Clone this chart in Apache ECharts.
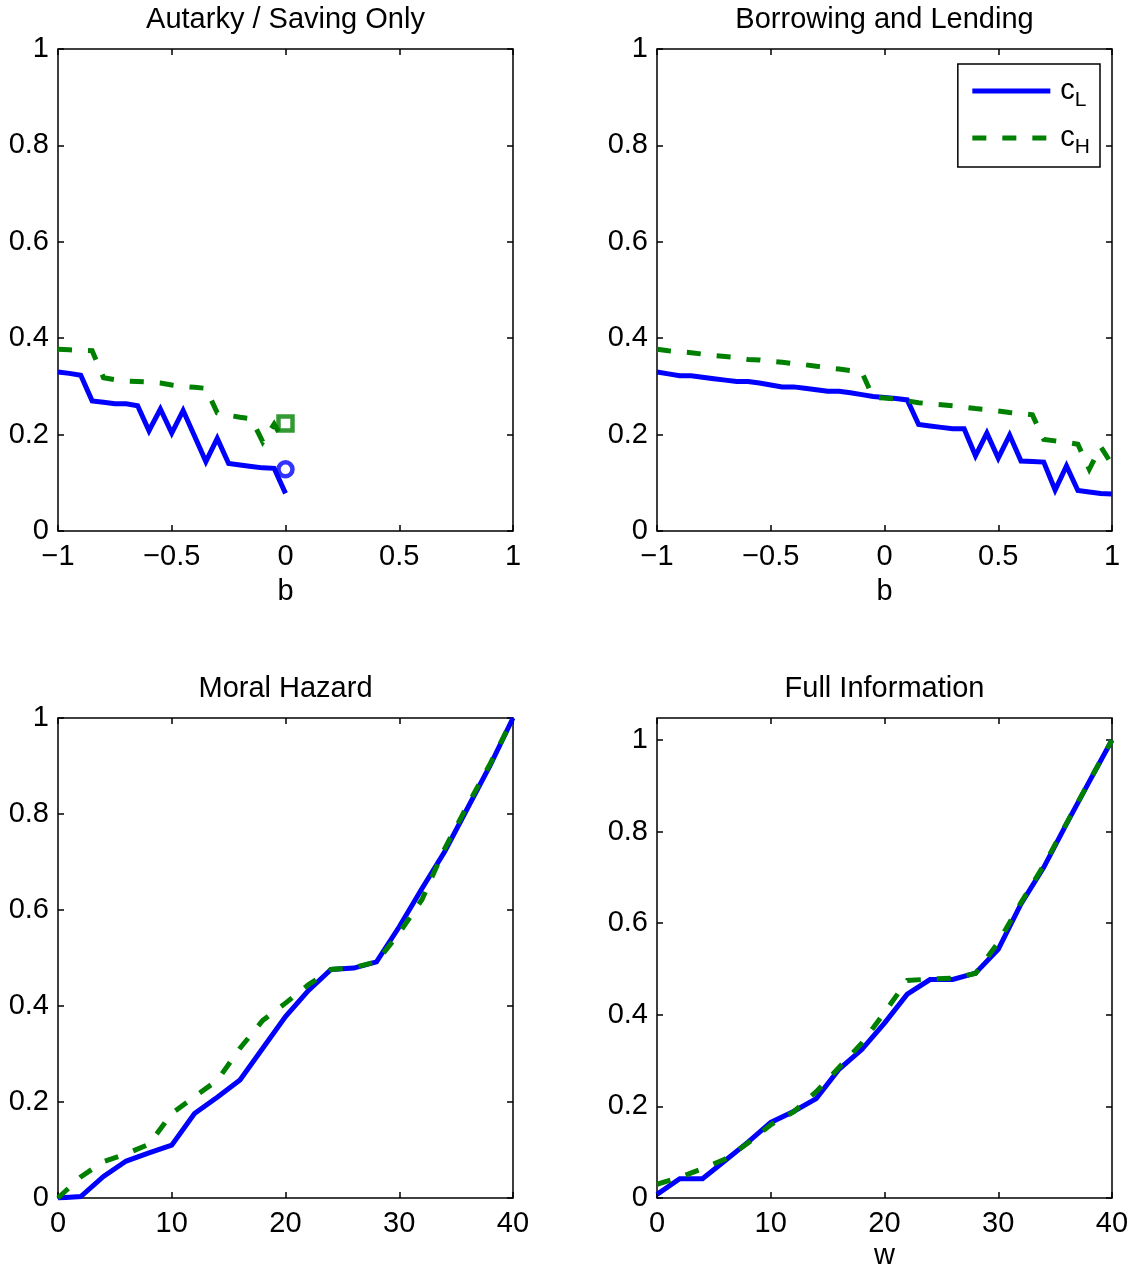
<!DOCTYPE html>
<html>
<head>
<meta charset="utf-8">
<script src="https://cdn.jsdelivr.net/npm/echarts@6/dist/echarts.min.js"></script>
<style>
  html, body { margin: 0; padding: 0; background: #fff; }
  #chart { width: 1136px; height: 1272px; }
</style>
</head>
<body>
<div id="chart"></div>
<script>
// Consumption policies c_L / c_H under four contracting regimes.

// Bond holdings b (autarky: saving only, b <= 0)
const bAutarky = [-1, -0.95, -0.9, -0.85, -0.8, -0.75, -0.7, -0.65, -0.6, -0.55, -0.5,
                  -0.45, -0.4, -0.35, -0.3, -0.25, -0.2, -0.15, -0.1, -0.05, 0];
const cLAutarky = [0.330, 0.327, 0.323, 0.270, 0.267, 0.264, 0.264, 0.260, 0.208, 0.253, 0.203,
                   0.250, 0.197, 0.144, 0.192, 0.140, 0.137, 0.134, 0.131, 0.130, 0.078];
const cHAutarky = [0.377, 0.376, 0.375, 0.374, 0.318, 0.314, 0.311, 0.310, 0.309, 0.307, 0.303,
                   0.300, 0.298, 0.296, 0.245, 0.240, 0.236, 0.233, 0.185, 0.222, 0.180];
// Values at the saving limit b = 0
const cLAutarkyEnd = 0.128;
const cHAutarkyEnd = 0.223;

// Bond holdings b (borrowing and lending)
const bBorrow = [-1, -0.95, -0.9, -0.85, -0.8, -0.75, -0.7, -0.65, -0.6, -0.55, -0.5,
                 -0.45, -0.4, -0.35, -0.3, -0.25, -0.2, -0.15, -0.1, -0.05, 0,
                 0.05, 0.1, 0.15, 0.2, 0.25, 0.3, 0.35, 0.4, 0.45, 0.5,
                 0.55, 0.6, 0.65, 0.7, 0.75, 0.8, 0.85, 0.9, 0.95, 1];
const cLBorrow = [0.330, 0.326, 0.322, 0.322, 0.319, 0.316, 0.313, 0.310, 0.310, 0.307, 0.303,
                  0.299, 0.299, 0.296, 0.293, 0.290, 0.290, 0.287, 0.283, 0.279, 0.277,
                  0.275, 0.272, 0.221, 0.218, 0.215, 0.212, 0.212, 0.156, 0.203, 0.151,
                  0.199, 0.145, 0.144, 0.143, 0.085, 0.135, 0.084, 0.081, 0.078, 0.077];
const cHBorrow = [0.377, 0.374, 0.372, 0.370, 0.367, 0.364, 0.362, 0.360, 0.356, 0.355, 0.352,
                  0.350, 0.347, 0.345, 0.342, 0.339, 0.336, 0.333, 0.330, 0.277, 0.276,
                  0.274, 0.270, 0.266, 0.264, 0.262, 0.260, 0.257, 0.254, 0.252, 0.249,
                  0.246, 0.244, 0.241, 0.190, 0.187, 0.184, 0.180, 0.128, 0.175, 0.138];

// Promised utility w
const wGrid = [0, 2, 4, 6, 8, 10, 12, 14, 16, 18, 20, 22, 24, 26, 28, 30, 32, 34, 36, 38, 40];
const cLMoral = [0.000, 0.003, 0.045, 0.077, 0.094, 0.110, 0.176, 0.210, 0.246, 0.312, 0.378,
                 0.432, 0.476, 0.479, 0.492, 0.565, 0.645, 0.722, 0.812, 0.902, 1.000];
const cHMoral = [0.000, 0.044, 0.076, 0.092, 0.112, 0.176, 0.211, 0.245, 0.312, 0.370, 0.406,
                 0.444, 0.476, 0.480, 0.492, 0.552, 0.622, 0.728, 0.818, 0.905, 1.000];
const cLFull = [0.008, 0.042, 0.042, 0.082, 0.122, 0.165, 0.189, 0.217, 0.281, 0.324, 0.382,
                0.445, 0.477, 0.477, 0.491, 0.543, 0.642, 0.722, 0.817, 0.909, 1.000];
const cHFull = [0.030, 0.045, 0.064, 0.085, 0.120, 0.160, 0.188, 0.232, 0.285, 0.338, 0.405,
                0.475, 0.478, 0.480, 0.490, 0.558, 0.645, 0.726, 0.818, 0.910, 1.000];

const titles = ['Autarky / Saving Only', 'Borrowing and Lending', 'Moral Hazard', 'Full Information'];
const yTicks = [0, 0.2, 0.4, 0.6, 0.8, 1];

const FONT = '"Liberation Sans", Arial, Helvetica, sans-serif';
const FS = 29;
const BLUE = '#0000ff';
const GREEN = '#008000';
const LW = 5;
const DASH = [14, 16];

const zip = (xs, ys) => xs.map((x, i) => [x, ys[i]]);
const minus = v => String(v).replace('-', '\u2212');

const panels = [
  { left: 58,  top: 49,  width: 455, height: 482, x: [-1, 1, 0.5], y: [0, 1], xName: 'b', nameGap: 46 },
  { left: 657, top: 49,  width: 455, height: 482, x: [-1, 1, 0.5], y: [0, 1], xName: 'b', nameGap: 46 },
  { left: 58,  top: 718, width: 455, height: 480, x: [0, 40, 10],  y: [0, 1], xName: '', nameGap: 43 },
  { left: 657, top: 718, width: 455, height: 480, x: [0, 40, 10],  y: [0, 1.048], xName: 'w', nameGap: 43 }
];

const grid = [], xAxis = [], yAxis = [], title = [];
const tickStyle = { show: true, inside: true, length: 6, lineStyle: { color: '#000', width: 1.5 } };
const noLine = { show: false, onZero: false };

panels.forEach((p, i) => {
  grid.push({ left: p.left, top: p.top, width: p.width, height: p.height,
              show: true, borderColor: '#000', borderWidth: 1.5, backgroundColor: '#fff' });
  title.push({ text: titles[i], left: p.left + p.width / 2, top: p.top - 44, textAlign: 'center', padding: 0,
               textStyle: { fontFamily: FONT, fontSize: FS, fontWeight: 'normal', color: '#000' } });
  // bottom and top x axes (box frame ticks on both sides)
  xAxis.push({ type: 'value', gridIndex: i, position: 'bottom', min: p.x[0], max: p.x[1], interval: p.x[2],
               name: p.xName, nameLocation: 'middle', nameGap: p.nameGap,
               nameTextStyle: { fontFamily: FONT, fontSize: FS, color: '#000' },
               axisLine: noLine, splitLine: { show: false }, axisTick: tickStyle,
               axisLabel: { margin: 11, fontFamily: FONT, fontSize: FS, color: '#000', formatter: minus } });
  xAxis.push({ type: 'value', gridIndex: i, position: 'top', min: p.x[0], max: p.x[1], interval: p.x[2],
               axisLine: noLine, splitLine: { show: false }, axisTick: tickStyle,
               axisLabel: { show: false } });
  // left and right y axes
  const yTick = Object.assign({}, tickStyle, { customValues: yTicks });
  yAxis.push({ type: 'value', gridIndex: i, position: 'left', min: p.y[0], max: p.y[1], interval: 0.2,
               axisLine: noLine, splitLine: { show: false }, axisTick: yTick,
               axisLabel: { margin: 9, fontFamily: FONT, fontSize: FS, color: '#000', customValues: yTicks } });
  yAxis.push({ type: 'value', gridIndex: i, position: 'right', min: p.y[0], max: p.y[1], interval: 0.2,
               axisLine: noLine, splitLine: { show: false }, axisTick: yTick,
               axisLabel: { show: false } });
});

const solid = { color: BLUE, width: LW, type: 'solid', join: 'miter' };
const dashed = { color: GREEN, width: LW, type: DASH, join: 'miter' };

function lineSeries(name, idx, data, style) {
  return { name, type: 'line', xAxisIndex: idx * 2, yAxisIndex: idx * 2, data,
           symbol: 'none', lineStyle: style, itemStyle: { color: style.color },
           animation: false, silent: true, z: name === 'cL' ? 3 : 4 };
}

const series = [
  lineSeries('cL', 0, zip(bAutarky, cLAutarky), solid),
  lineSeries('cH', 0, zip(bAutarky, cHAutarky), dashed),
  lineSeries('cL', 1, zip(bBorrow, cLBorrow), solid),
  lineSeries('cH', 1, zip(bBorrow, cHBorrow), dashed),
  lineSeries('cL', 2, zip(wGrid, cLMoral), solid),
  lineSeries('cH', 2, zip(wGrid, cHMoral), dashed),
  lineSeries('cL', 3, zip(wGrid, cLFull), solid),
  lineSeries('cH', 3, zip(wGrid, cHFull), dashed),
  { type: 'scatter', xAxisIndex: 0, yAxisIndex: 0, data: [[0, cLAutarkyEnd]], symbol: 'circle', symbolSize: 14,
    itemStyle: { color: 'rgba(0,0,0,0)', borderColor: BLUE, borderWidth: 4.5 }, animation: false, silent: true, z: 5 },
  { type: 'scatter', xAxisIndex: 0, yAxisIndex: 0, data: [[0, cHAutarkyEnd]], symbol: 'rect', symbolSize: 14,
    itemStyle: { color: 'rgba(0,0,0,0)', borderColor: GREEN, borderWidth: 4.5 }, animation: false, silent: true, z: 5 }
];

const hiddenSymbol = { color: 'rgba(0,0,0,0)', borderWidth: 0, opacity: 0 };
const legend = {
  right: 36, top: 64, orient: 'vertical', selectedMode: false,
  backgroundColor: '#fff', borderColor: '#000', borderWidth: 1.5, borderRadius: 0,
  padding: [12, 10, 9, 12], itemWidth: 78, itemHeight: 24, itemGap: 12,
  data: [
    { name: 'cL', itemStyle: hiddenSymbol, lineStyle: { color: BLUE, width: LW, type: 'solid', opacity: 1 } },
    { name: 'cH', itemStyle: hiddenSymbol, lineStyle: { color: GREEN, width: LW, type: DASH, opacity: 1 } }
  ],
  formatter: n => n === 'cL' ? '{c|c}{s|L}' : '{c|c}{s|H}',
  textStyle: {
    fontFamily: FONT, color: '#000',
    rich: {
      c: { fontFamily: FONT, fontSize: FS, color: '#000', padding: [0, 0, 0, 5], verticalAlign: 'top', lineHeight: 30 },
      s: { fontFamily: FONT, fontSize: 21, color: '#000', padding: [14, 0, 0, 0], verticalAlign: 'top', lineHeight: 22 }
    }
  }
};

const chart = echarts.init(document.getElementById('chart'), null, { renderer: 'canvas' });
chart.setOption({ backgroundColor: '#fff', animation: false, title, grid, xAxis, yAxis, series, legend });
</script>
</body>
</html>
